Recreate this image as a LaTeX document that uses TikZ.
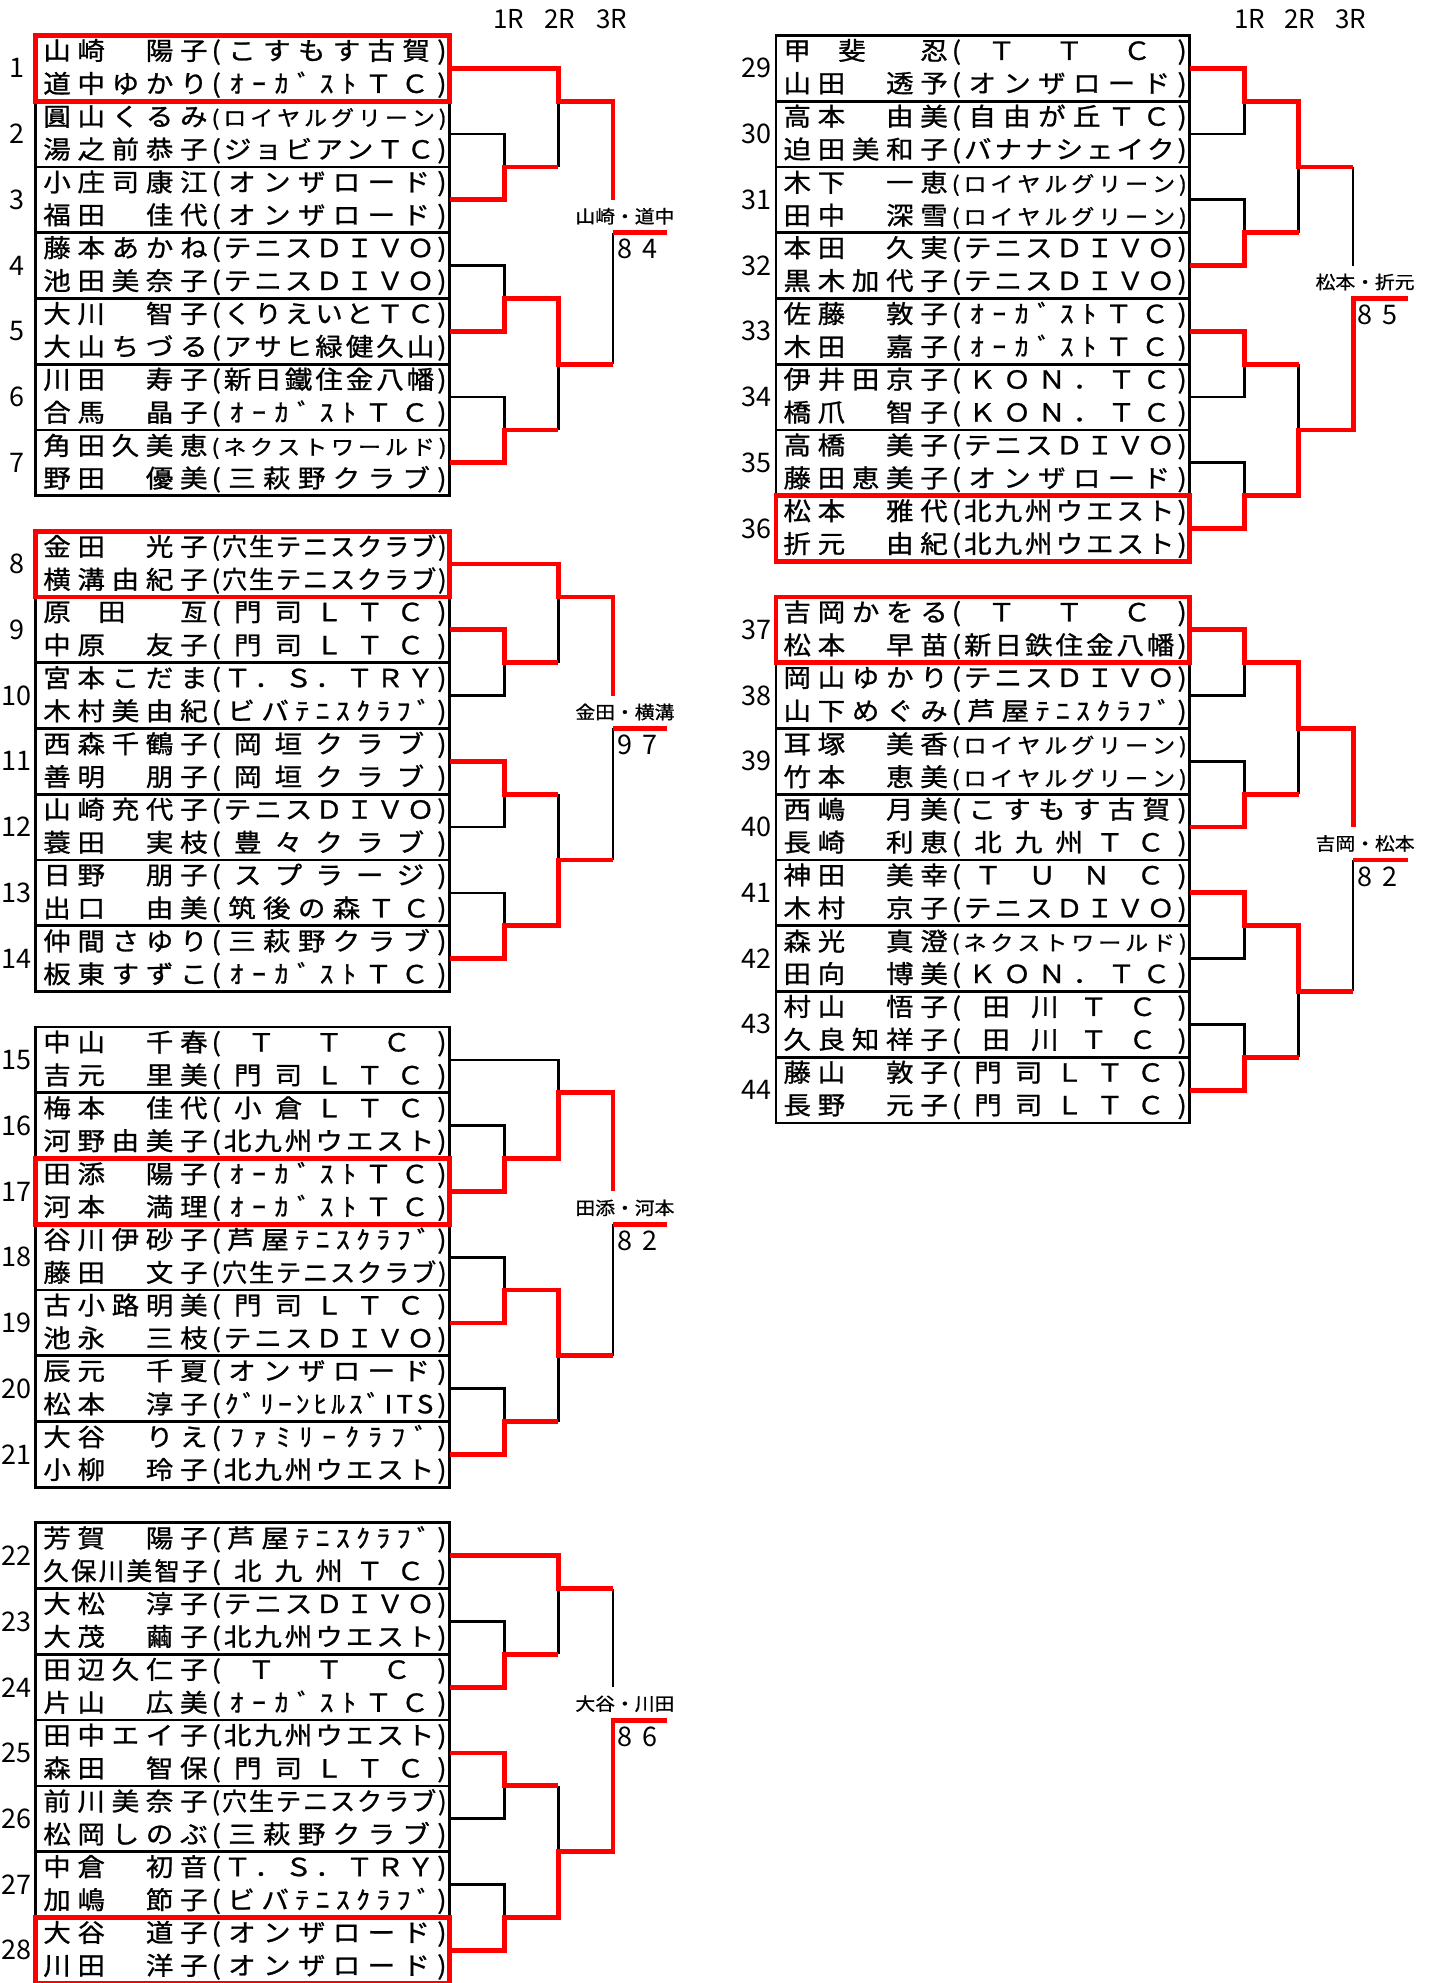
\documentclass[tikz,border=0pt]{standalone}
\usepackage{fontspec}
\usepackage{graphicx}
\usetikzlibrary{positioning}
\newfontfamily\jp{Noto Sans CJK JP}[FakeStretch=1.1,FakeBold=1]
\newfontfamily\jq{Noto Sans CJK JP}
\definecolor{wred}{RGB}{255,0,0}
\newcommand\namefont{\jp\fontsize{25}{25}\selectfont}
\newcommand\numfont{\jq\fontsize{27}{27}\selectfont}
\newcommand\hdrfont{\jq\fontsize{26}{26}\selectfont}
\newcommand\lblfont{\jp\fontsize{18}{18}\selectfont}
\newcommand\sfnt{\fontsize{21}{21}\selectfont}
\newcommand\vac{}
\def\sprd#1{\sprdA#1\relax}
\def\sprdA#1{\ifx#1\sfnt\sfnt\expandafter\sprdA\else#1\expandafter\sprdC\fi}
\def\sprdC{\futurelet\sprdnx\sprdB}
\def\sprdB{\ifx\sprdnx\relax\expandafter\sprdE\else\hfill\expandafter\sprdA\fi}
\def\sprdE#1{}
\newsavebox\fitbx
\newlength\fitw
\newcommand\fitto[2]{\sbox\fitbx{#2}%
  \pgfmathsetmacro\fitr{min(1,0.93*#1/\the\wd\fitbx)}%
  \pgfmathsetlength\fitw{#1/\fitr}%
  \scalebox{\fitr}[1]{\makebox[\fitw][s]{\sprd{#2}}}}
\newcommand\rw[2]{\vbox to 32.88pt{\vss\hbox to 413.8pt{\hskip7.6pt\fitto{164.3pt}{#1}\hskip4pt\fitto{235pt}{#2}\hss}\vss}}
\newcommand\prs[4]{\vbox{\offinterlineskip\rw{#1}{#2}\rw{#3}{#4}}}

\begin{document}
\begin{tikzpicture}[x=1pt, y=-1pt,
    pair/.style={draw, line width=2.7pt, inner sep=0pt, outer sep=0pt, minimum width=413.8pt, minimum height=65.76pt, anchor=north west, font=\namefont},
    num/.style={inner sep=0pt, font=\numfont},
    hdr/.style={inner sep=0pt, font=\hdrfont},
    lbl/.style={inner sep=0pt, font=\lblfont},
    scr/.style={inner sep=0pt, font=\numfont},
    ln/.style={line width=2.7pt},
    win/.style={draw=wred, line width=4.8pt},
    hl/.style={draw=wred, line width=4.8pt}
]
\useasboundingbox (0,0) rectangle (1428,1983);
\coordinate (L1) at (504.2,0);
\coordinate (L2) at (558.4,0);
\coordinate (L3) at (612.9,0);
\coordinate (L4) at (667.4,0);
\coordinate (R1) at (1244.4,0);
\coordinate (R2) at (1298.6,0);
\coordinate (R3) at (1353.1,0);
\coordinate (R4) at (1407.6,0);

\node[hdr] (h1) at (509,19) {1R};
\node[hdr] (h2) at (560,19) {2R};
\node[hdr] (h3) at (611.5,19) {3R};
\node[hdr] (h4) at (1250,19) {1R};
\node[hdr] (h5) at (1300,19) {2R};
\node[hdr] (h6) at (1351,19) {3R};

\node[pair] (p1) at (35.7,35.4) {\prs{山崎　陽子}{(こすもす古賀)}{道中ゆかり}{(ｵｰｶﾞｽﾄＴＣ)}};
\node[pair, below=0pt of p1] (p2) {\prs{圓山くるみ}{\sfnt(ロイヤルグリーン)}{湯之前恭子}{(ジョビアンＴＣ)}};
\node[pair, below=0pt of p2] (p3) {\prs{小庄司康江}{(オンザロード)}{福田　佳代}{(オンザロード)}};
\node[pair, below=0pt of p3] (p4) {\prs{藤本あかね}{(テニスＤＩＶＯ)}{池田美奈子}{(テニスＤＩＶＯ)}};
\node[pair, below=0pt of p4] (p5) {\prs{大川　智子}{(くりえいとＴＣ)}{大山ちづる}{(アサヒ緑健久山)}};
\node[pair, below=0pt of p5] (p6) {\prs{川田　寿子}{(新日鐵住金八幡)}{合馬　晶子}{(ｵｰｶﾞｽﾄＴＣ)}};
\node[pair, below=0pt of p6] (p7) {\prs{角田久美恵}{\sfnt(ネクストワールド)}{野田　優美}{(三萩野クラブ)}};

\node[pair] (p8) at (35.7,531.2) {\prs{金田　光子}{(穴生テニスクラブ)}{横溝由紀子}{(穴生テニスクラブ)}};
\node[pair, below=0pt of p8] (p9) {\prs{原\vac 田\vac \vac \vac 亙}{(門司ＬＴＣ)}{中原　友子}{(門司ＬＴＣ)}};
\node[pair, below=0pt of p9] (p10) {\prs{宮本こだま}{(Ｔ．Ｓ．ＴＲＹ)}{木村美由紀}{(ビバﾃﾆｽｸﾗﾌﾞ)}};
\node[pair, below=0pt of p10] (p11) {\prs{西森千鶴子}{(岡垣クラブ)}{善明　朋子}{(岡垣クラブ)}};
\node[pair, below=0pt of p11] (p12) {\prs{山崎充代子}{(テニスＤＩＶＯ)}{蓑田　実枝}{(豊々クラブ)}};
\node[pair, below=0pt of p12] (p13) {\prs{日野　朋子}{(スプラージ)}{出口　由美}{(筑後の森ＴＣ)}};
\node[pair, below=0pt of p13] (p14) {\prs{仲間さゆり}{(三萩野クラブ)}{板東すずこ}{(ｵｰｶﾞｽﾄＴＣ)}};

\node[pair] (p15) at (35.7,1027.0) {\prs{中山　千春}{(\vac Ｔ\vac \vac Ｔ\vac \vac Ｃ\vac )}{吉元　里美}{(門司ＬＴＣ)}};
\node[pair, below=0pt of p15] (p16) {\prs{梅本　佳代}{(小倉ＬＴＣ)}{河野由美子}{(北九州ウエスト)}};
\node[pair, below=0pt of p16] (p17) {\prs{田添　陽子}{(ｵｰｶﾞｽﾄＴＣ)}{河本　満理}{(ｵｰｶﾞｽﾄＴＣ)}};
\node[pair, below=0pt of p17] (p18) {\prs{谷川伊砂子}{(芦屋ﾃﾆｽｸﾗﾌﾞ)}{藤田　文子}{(穴生テニスクラブ)}};
\node[pair, below=0pt of p18] (p19) {\prs{古小路明美}{(門司ＬＴＣ)}{池永　三枝}{(テニスＤＩＶＯ)}};
\node[pair, below=0pt of p19] (p20) {\prs{辰元　千夏}{(オンザロード)}{松本　淳子}{(ｸﾞﾘｰﾝﾋﾙｽﾞITS)}};
\node[pair, below=0pt of p20] (p21) {\prs{大谷　りえ}{(ﾌｧﾐﾘｰｸﾗﾌﾞ)}{小柳　玲子}{(北九州ウエスト)}};

\node[pair] (p22) at (35.7,1522.8) {\prs{芳賀　陽子}{(芦屋ﾃﾆｽｸﾗﾌﾞ)}{久保川美智子}{(北九州ＴＣ)}};
\node[pair, below=0pt of p22] (p23) {\prs{大松　淳子}{(テニスＤＩＶＯ)}{大茂　繭子}{(北九州ウエスト)}};
\node[pair, below=0pt of p23] (p24) {\prs{田辺久仁子}{(\vac Ｔ\vac \vac Ｔ\vac \vac Ｃ\vac )}{片山　広美}{(ｵｰｶﾞｽﾄＴＣ)}};
\node[pair, below=0pt of p24] (p25) {\prs{田中エイ子}{(北九州ウエスト)}{森田　智保}{(門司ＬＴＣ)}};
\node[pair, below=0pt of p25] (p26) {\prs{前川美奈子}{(穴生テニスクラブ)}{松岡しのぶ}{(三萩野クラブ)}};
\node[pair, below=0pt of p26] (p27) {\prs{中倉　初音}{(Ｔ．Ｓ．ＴＲＹ)}{加嶋　節子}{(ビバﾃﾆｽｸﾗﾌﾞ)}};
\node[pair, below=0pt of p27] (p28) {\prs{大谷　道子}{(オンザロード)}{川田　洋子}{(オンザロード)}};

\node[pair] (p29) at (775.9,35.4) {\prs{甲\vac 斐\vac \vac \vac 忍}{(\vac Ｔ\vac \vac Ｔ\vac \vac Ｃ\vac )}{山田　透予}{(オンザロード)}};
\node[pair, below=0pt of p29] (p30) {\prs{高本　由美}{(自由が丘ＴＣ)}{迫田美和子}{(バナナシェイク)}};
\node[pair, below=0pt of p30] (p31) {\prs{木下　一恵}{\sfnt(ロイヤルグリーン)}{田中　深雪}{\sfnt(ロイヤルグリーン)}};
\node[pair, below=0pt of p31] (p32) {\prs{本田　久実}{(テニスＤＩＶＯ)}{黒木加代子}{(テニスＤＩＶＯ)}};
\node[pair, below=0pt of p32] (p33) {\prs{佐藤　敦子}{(ｵｰｶﾞｽﾄＴＣ)}{木田　嘉子}{(ｵｰｶﾞｽﾄＴＣ)}};
\node[pair, below=0pt of p33] (p34) {\prs{伊井田京子}{(ＫＯＮ．ＴＣ)}{橋爪　智子}{(ＫＯＮ．ＴＣ)}};
\node[pair, below=0pt of p34] (p35) {\prs{高橋　美子}{(テニスＤＩＶＯ)}{藤田恵美子}{(オンザロード)}};
\node[pair, below=0pt of p35] (p36) {\prs{松本　雅代}{(北九州ウエスト)}{折元　由紀}{(北九州ウエスト)}};

\node[pair] (p37) at (775.9,596.9) {\prs{吉岡かをる}{(\vac Ｔ\vac \vac Ｔ\vac \vac Ｃ\vac )}{松本　早苗}{(新日鉄住金八幡)}};
\node[pair, below=0pt of p37] (p38) {\prs{岡山ゆかり}{(テニスＤＩＶＯ)}{山下めぐみ}{(芦屋ﾃﾆｽｸﾗﾌﾞ)}};
\node[pair, below=0pt of p38] (p39) {\prs{耳塚　美香}{\sfnt(ロイヤルグリーン)}{竹本　恵美}{\sfnt(ロイヤルグリーン)}};
\node[pair, below=0pt of p39] (p40) {\prs{西嶋　月美}{(こすもす古賀)}{長崎　利恵}{(北九州ＴＣ)}};
\node[pair, below=0pt of p40] (p41) {\prs{神田　美幸}{(Ｔ\vac Ｕ\vac Ｎ\vac Ｃ)}{木村　京子}{(テニスＤＩＶＯ)}};
\node[pair, below=0pt of p41] (p42) {\prs{森光　真澄}{\sfnt(ネクストワールド)}{田向　博美}{(ＫＯＮ．ＴＣ)}};
\node[pair, below=0pt of p42] (p43) {\prs{村山　悟子}{(\vac 田\vac 川\vac Ｔ\vac Ｃ\vac )}{久良知祥子}{(\vac 田\vac 川\vac Ｔ\vac Ｃ\vac )}};
\node[pair, below=0pt of p43] (p44) {\prs{藤山　敦子}{(門司ＬＴＣ)}{長野　元子}{(門司ＬＴＣ)}};

\foreach \i in {1,...,44}
  \node[num] (n\i) at ([xshift=-19pt]p\i.west) {\i};

\draw[ln] (p2.east) -| (p2.south -| L1);
\draw[ln] (p4.east) -| (p4.south -| L1);
\draw[ln] (p6.east) -| (p6.south -| L1);
\draw[ln] (p2.south -| L2) -- (p1.south -| L2);
\draw[ln] (p6.south -| L2) -- (p5.south -| L2);
\draw[ln] (p5.south -| L3) -- (p3.south -| L3);
\draw[win] (p1.east) -| (p1.south -| L2) -- (p1.south -| L3) -- (p3.center -| L3);
\draw[win] (p3.east) -| (p2.south -| L1) -- (p2.south -| L2);
\draw[win] (p5.east) -| (p4.south -| L1) -- (p4.south -| L2) |- (p5.south -| L3);
\draw[win] (p7.east) -| (p6.south -| L1) -- (p6.south -| L2);
\coordinate (s1) at (p3.south -| L3);
\draw[win] (s1) -- (s1 -| L4);
\node[lbl] (t1) at ([xshift=12pt,yshift=16.44pt]s1) {山崎・道中};
\node[scr] (k1) at ([xshift=24.5pt,yshift=-16.44pt]s1) {8\hspace{10pt}4};

\draw[ln] (p10.east) -| (p9.south -| L1);
\draw[ln] (p12.east) -| (p11.south -| L1);
\draw[ln] (p13.east) -| (p13.south -| L1);
\draw[ln] (p9.south -| L2) -- (p8.south -| L2);
\draw[ln] (p11.south -| L2) -- (p12.south -| L2);
\draw[ln] (p12.south -| L3) -- (p10.south -| L3);
\draw[win] (p8.east) -| (p8.south -| L2) -- (p8.south -| L3) -- (p10.center -| L3);
\draw[win] (p9.east) -| (p9.south -| L1) -- (p9.south -| L2);
\draw[win] (p11.east) -| (p11.south -| L1) -- (p11.south -| L2);
\draw[win] (p14.east) -| (p13.south -| L1) -- (p13.south -| L2) |- (p12.south -| L3);
\coordinate (s2) at (p10.south -| L3);
\draw[win] (s2) -- (s2 -| L4);
\node[lbl] (t2) at ([xshift=12pt,yshift=16.44pt]s2) {金田・横溝};
\node[scr] (k2) at ([xshift=24.5pt,yshift=-16.44pt]s2) {9\hspace{10pt}7};

\draw[ln] (p15.east) -| (p15.south -| L2);
\draw[ln] (p16.east) -| (p16.south -| L1);
\draw[ln] (p18.east) -| (p18.south -| L1);
\draw[ln] (p20.east) -| (p20.south -| L1);
\draw[ln] (p20.south -| L2) -- (p19.south -| L2);
\draw[ln] (p19.south -| L3) -- (p17.south -| L3);
\draw[win] (p17.east) -| (p16.south -| L1) -- (p16.south -| L2) |- (p15.south -| L3) -- (p17.center -| L3);
\draw[win] (p19.east) -| (p18.south -| L1) -- (p18.south -| L2) |- (p19.south -| L3);
\draw[win] (p21.east) -| (p20.south -| L1) -- (p20.south -| L2);
\coordinate (s3) at (p17.south -| L3);
\draw[win] (s3) -- (s3 -| L4);
\node[lbl] (t3) at ([xshift=12pt,yshift=16.44pt]s3) {田添・河本};
\node[scr] (k3) at ([xshift=24.5pt,yshift=-16.44pt]s3) {8\hspace{10pt}2};

\draw[ln] (p23.east) -| (p23.south -| L1);
\draw[ln] (p26.east) -| (p25.south -| L1);
\draw[ln] (p27.east) -| (p27.south -| L1);
\draw[ln] (p23.south -| L2) -- (p22.south -| L2);
\draw[ln] (p25.south -| L2) -- (p26.south -| L2);
\draw[ln] (p22.south -| L3) -- (p24.center -| L3);
\coordinate (s4) at (p24.south -| L3);
\draw[win] (p22.east) -| (p22.south -| L2) -- (p22.south -| L3);
\draw[win] (p24.east) -| (p23.south -| L1) -- (p23.south -| L2);
\draw[win] (p25.east) -| (p25.south -| L1) -- (p25.south -| L2);
\draw[win] (p28.east) -| (p27.south -| L1) -- (p27.south -| L2) |- (p26.south -| L3) -- (s4) -- (s4 -| L4);
\node[lbl] (t4) at ([xshift=12pt,yshift=16.44pt]s4) {大谷・川田};
\node[scr] (k4) at ([xshift=24.5pt,yshift=-16.44pt]s4) {8\hspace{10pt}6};

\draw[ln] (p30.east) -| (p29.south -| R1);
\draw[ln] (p31.east) -| (p31.south -| R1);
\draw[ln] (p34.east) -| (p33.south -| R1);
\draw[ln] (p35.east) -| (p35.south -| R1);
\draw[ln] (p31.south -| R2) -- (p30.south -| R2);
\draw[ln] (p33.south -| R2) -- (p34.south -| R2);
\draw[ln] (p30.south -| R3) -- (p32.center -| R3);
\coordinate (s5) at (p32.south -| R3);
\draw[win] (p29.east) -| (p29.south -| R1) -- (p29.south -| R2) |- (p30.south -| R3);
\draw[win] (p32.east) -| (p31.south -| R1) -- (p31.south -| R2);
\draw[win] (p33.east) -| (p33.south -| R1) -- (p33.south -| R2);
\draw[win] (p36.east) -| (p35.south -| R1) -- (p35.south -| R2) |- (p34.south -| R3) -- (s5) -- (s5 -| R4);
\node[lbl] (t5) at ([xshift=12pt,yshift=16.44pt]s5) {松本・折元};
\node[scr] (k5) at ([xshift=24.5pt,yshift=-16.44pt]s5) {8\hspace{10pt}5};

\draw[ln] (p38.east) -| (p37.south -| R1);
\draw[ln] (p39.east) -| (p39.south -| R1);
\draw[ln] (p42.east) -| (p41.south -| R1);
\draw[ln] (p43.east) -| (p43.south -| R1);
\draw[ln] (p39.south -| R2) -- (p38.south -| R2);
\draw[ln] (p43.south -| R2) -- (p42.south -| R2);
\draw[ln] (p42.south -| R3) -- (p40.south -| R3);
\draw[win] (p37.east) -| (p37.south -| R1) -- (p37.south -| R2) |- (p38.south -| R3) -- (p40.center -| R3);
\draw[win] (p40.east) -| (p39.south -| R1) -- (p39.south -| R2);
\draw[win] (p41.east) -| (p41.south -| R1) -- (p41.south -| R2) |- (p42.south -| R3);
\draw[win] (p44.east) -| (p43.south -| R1) -- (p43.south -| R2);
\coordinate (s6) at (p40.south -| R3);
\draw[win] (s6) -- (s6 -| R4);
\node[lbl] (t6) at ([xshift=12pt,yshift=16.44pt]s6) {吉岡・松本};
\node[scr] (k6) at ([xshift=24.5pt,yshift=-16.44pt]s6) {8\hspace{10pt}2};

\draw[hl] (p1.north west) rectangle (p1.south east);
\draw[hl] (p8.north west) rectangle (p8.south east);
\draw[hl] (p17.north west) rectangle (p17.south east);
\draw[hl] (p28.north west) rectangle (p28.south east);
\draw[hl] (p36.north west) rectangle (p36.south east);
\draw[hl] (p37.north west) rectangle (p37.south east);
\end{tikzpicture}
\end{document}
